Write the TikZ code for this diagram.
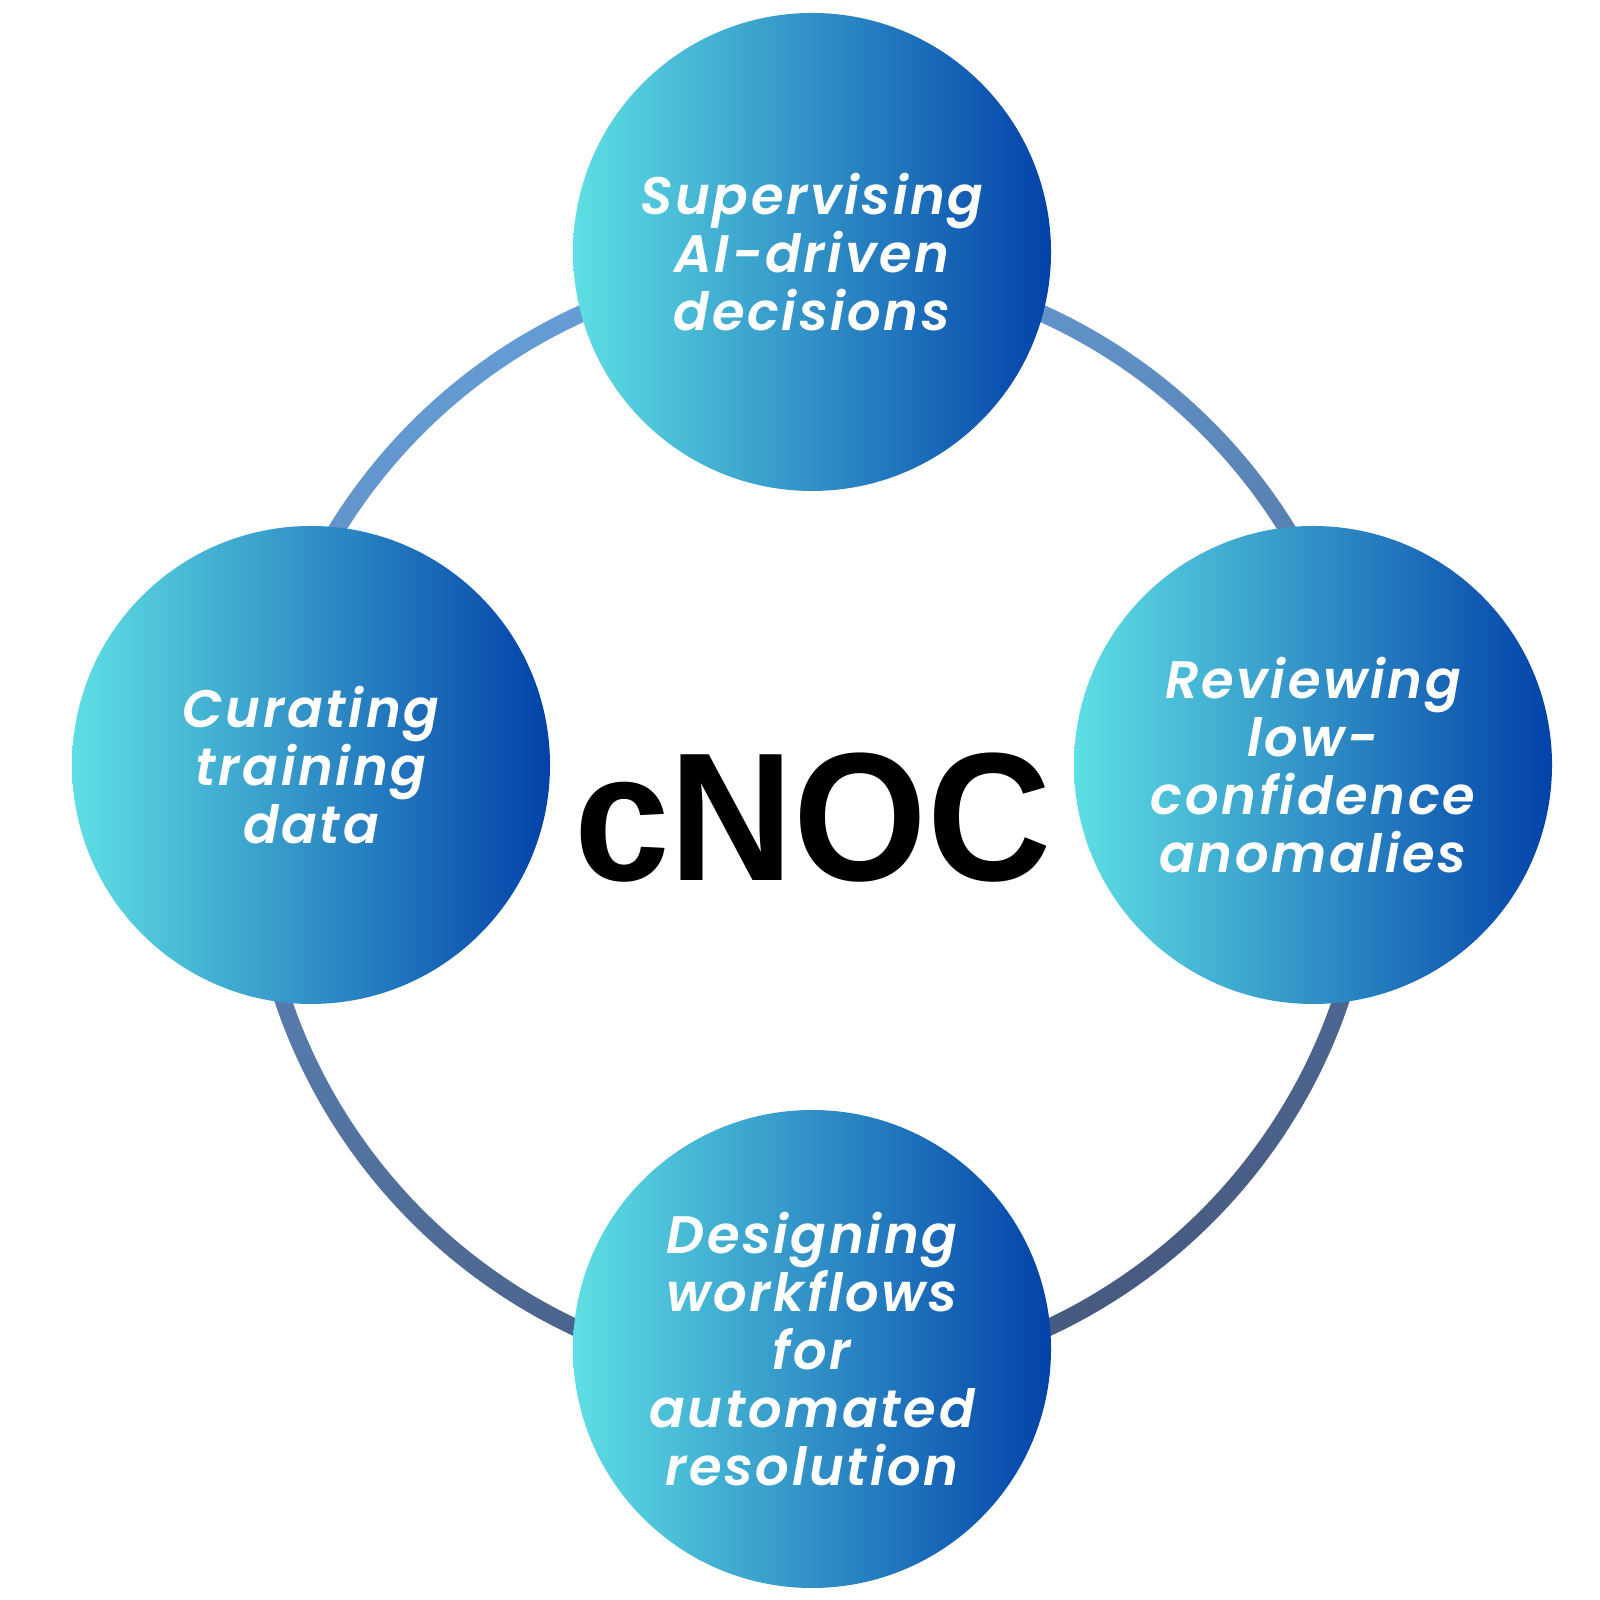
\documentclass[tikz,border=0pt]{standalone}
\usepackage{fontspec}
\IfFontExistsTF{Poppins SemiBold Italic}
  {\newfontfamily\bubblefont[LetterSpace=5, BoldItalicFont={Poppins SemiBold Italic}]{Poppins}}
  {\newfontfamily\bubblefont[LetterSpace=5]{Poppins}}
\newfontfamily\hubfont{Liberation Sans}
\definecolor{ringtop}{HTML}{659CD5}
\definecolor{ringbot}{HTML}{475A80}
\definecolor{bubleft}{HTML}{5EDFE4}
\definecolor{bubright}{HTML}{0342A9}
\tikzset{
  bubble/.style={circle, minimum size=4.78cm, inner sep=0pt,
    left color=bubleft, right color=bubright, text=white, align=center,
    font=\bubblefont\bfseries\itshape\fontsize{15}{16.5}\selectfont},
}
\begin{document}
\begin{tikzpicture}
  \useasboundingbox (0,0) rectangle (16,16);
  \coordinate (hub) at (8.12,7.78);
  % ring behind the bubbles
  \shade[even odd rule, top color=ringtop, bottom color=ringbot, shading angle=20]
    (hub) circle (5.665) (hub) circle (5.495);
  \node[bubble] (supervise) at (8.12,13.48) {Supervising\\AI-driven\\decisions};
  \node[bubble] (curate) at (3.11,8.35) {Curating\\training\\data};
  \node[bubble] (review) at (13.13,8.35) {Reviewing\\low-\\confidence\\anomalies};
  \node[bubble] (design) at (8.12,2.51) {Designing\\workflows\\for\\automated\\resolution};
  \node[anchor=base, xscale=0.94, transform shape,
    font=\hubfont\bfseries\fontsize{52}{52}\selectfont] (cnoc) at (8.13,7.19) {cNOC};
\end{tikzpicture}
\end{document}
